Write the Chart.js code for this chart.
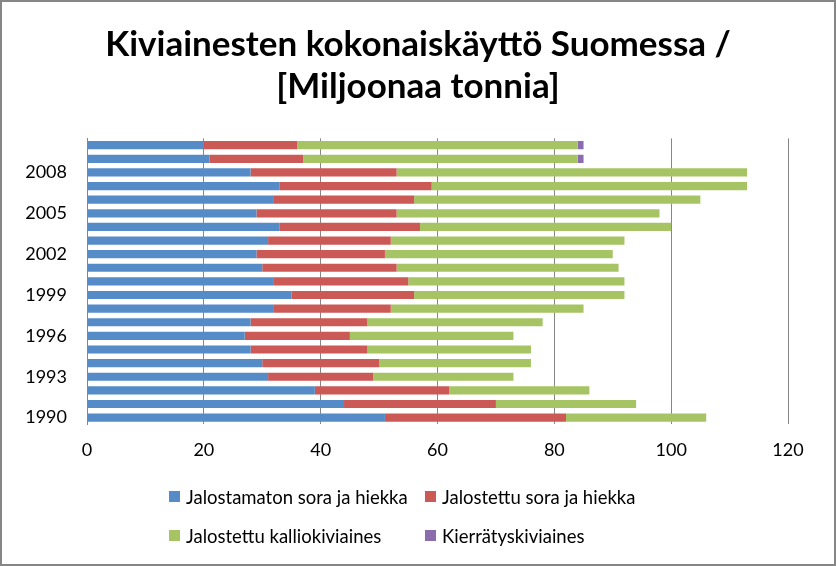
<!DOCTYPE html>
<html>
<head>
<meta charset="utf-8">
<script src="https://cdn.jsdelivr.net/npm/chart.js@4/dist/chart.umd.min.js"></script>
<style>
    html, body { margin: 0; padding: 0; background: #fff; }
    #wrap {
        position: relative;
        width: 836px;
        height: 566px;
        box-sizing: border-box;
        border: 2px solid #868686;
        background: #fff;
        font-family: Lato, 'Open Sans', sans-serif;
    }
    #chart { position: absolute; left: 0; top: 0; }
    #legend {
        position: absolute;
        left: 167px;
        top: 484px;
        display: grid;
        grid-template-columns: 256px auto;
        row-gap: 18px;
        font-size: 18.5px;
        color: #000;
    }
    .item { display: flex; align-items: center; height: 21px; white-space: nowrap; }
    .box { width: 11px; height: 11px; margin-right: 6px; }
</style>
</head>
<body>
<div id="wrap">
    <canvas id="chart" width="832" height="562"></canvas>
    <div id="legend"></div>
</div>
<script>
const years = ['1990', '1991', '1992', '1993', '1994', '1995', '1996', '1997', '1998', '1999', '2000',
               '2001', '2002', '2003', '2004', '2005', '2006', '2007', '2008', '2009', '2010'];

// Miljoonaa tonnia
const unprocessedGravel = [51, 44, 39, 31, 30, 28, 27, 28, 32, 35, 32, 30, 29, 31, 33, 29, 32, 33, 28, 21, 20];
const processedGravel = [31, 26, 23, 18, 20, 20, 18, 20, 20, 21, 23, 23, 22, 21, 24, 24, 24, 26, 25, 16, 16];
const crushedRock = [24, 24, 24, 24, 26, 28, 28, 30, 33, 36, 37, 38, 39, 40, 43, 45, 49, 54, 60, 47, 48];
const recycled = [0, 0, 0, 0, 0, 0, 0, 0, 0, 0, 0, 0, 0, 0, 0, 0, 0, 0, 0, 1, 1];

const seriesNames = ['Jalostamaton sora ja hiekka', 'Jalostettu sora ja hiekka',
                     'Jalostettu kalliokiviaines', 'Kierrätyskiviaines'];
const seriesColors = ['#558CC8', '#CB5A56', '#A6C463', '#8B6DAE'];
const xTicks = [0, 20, 40, 60, 80, 100, 120];

const allData = [unprocessedGravel, processedGravel, crushedRock, recycled];

const datasets = allData.map((values, i) => ({
    label: seriesNames[i],
    data: values,
    backgroundColor: seriesColors[i],
    borderWidth: 0,
    categoryPercentage: 1,
    barPercentage: 0.6
}));

const gridColor = '#868686';

new Chart(document.getElementById('chart'), {
    type: 'bar',
    data: { labels: years, datasets: datasets },
    options: {
        indexAxis: 'y',
        responsive: false,
        animation: false,
        layout: { padding: { left: 10, right: 10, top: 0, bottom: 88 } },
        plugins: {
            legend: { display: false },
            tooltip: { enabled: false },
            title: {
                display: true,
                text: ['Kiviainesten kokonaiskäyttö Suomessa /', '[Miljoonaa tonnia]'],
                color: '#000',
                font: { family: 'Lato', size: 35, weight: 'bold', lineHeight: 1.22 },
                padding: { top: 21, bottom: 30 }
            }
        },
        scales: {
            x: {
                stacked: true,
                min: 0,
                max: 120,
                afterBuildTicks: function(scale) {
                    scale.ticks = xTicks.map(v => ({ value: v }));
                },
                grid: { color: gridColor, lineWidth: 1, drawTicks: false },
                border: { display: false },
                ticks: {
                    color: '#000',
                    padding: 15,
                    font: { family: 'Lato', size: 18 }
                }
            },
            y: {
                stacked: true,
                reverse: true,
                grid: { display: false, drawTicks: false },
                border: { display: true, color: gridColor, width: 1 },
                afterFit: function(scale) { scale.width = 75; },
                ticks: {
                    autoSkip: false,
                    color: '#000',
                    padding: 20,
                    font: { family: 'Lato', size: 18 },
                    callback: function(value) {
                        const year = parseInt(this.getLabelForValue(value));
                        return (year - 1990) % 3 === 0 ? String(year) : '';
                    }
                }
            },
            // empty spacer on the right so the plot ends at 120 like the original
            spacer: {
                type: 'linear',
                position: 'right',
                display: true,
                grid: { display: false, drawTicks: false },
                border: { display: false },
                ticks: { display: false },
                afterFit: function(scale) { scale.width = 36; }
            }
        }
    }
});

// legend as two left-aligned columns
const legendDiv = document.getElementById('legend');
seriesNames.forEach((name, i) => {
    const item = document.createElement('div');
    item.className = 'item';
    const box = document.createElement('span');
    box.className = 'box';
    box.style.background = seriesColors[i];
    const text = document.createElement('span');
    text.textContent = name;
    item.appendChild(box);
    item.appendChild(text);
    legendDiv.appendChild(item);
});
</script>
</body>
</html>
